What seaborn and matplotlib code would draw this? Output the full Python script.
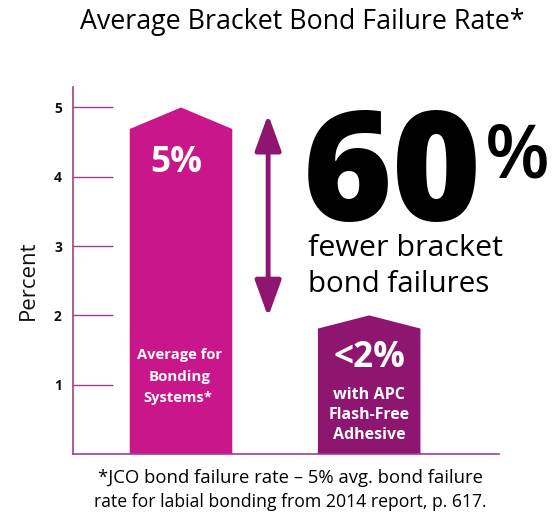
import matplotlib
matplotlib.use("Agg")
import matplotlib.pyplot as plt
import seaborn as sns
import pandas as pd
from matplotlib.patches import Polygon

categories = ["Average for\nBonding\nSystems*", "with APC\nFlash-Free\nAdhesive"]
values = [5.0, 2.0]
value_labels = ["5%", "<2%"]
yticks = [1, 2, 3, 4, 5]
title = "Average Bracket Bond Failure Rate*"
big_number = "60"
big_sign = "%"
sub_text = "fewer bracket\nbond failures"
footnote = "*JCO bond failure rate \u2013 5% avg. bond failure\nrate for labial bonding from 2014 report, p. 617."

colors = ["#C9168A", "#8E1570"]
cap = [0.31, 0.19]
axis_col = "#A0408C"

sns.set_theme(style="white")
plt.rcParams["font.family"] = ["Open Sans", "DejaVu Sans"]

fig = plt.figure(figsize=(5.52, 5.16), dpi=100)
ax = fig.add_axes([73/552, 1-454/516, (499-73)/552, (454-86.7)/516])

df = pd.DataFrame({"cat": categories, "val": values})
sns.barplot(data=df, x="cat", y="val", hue="cat", palette=colors, width=0.545,
            legend=False, ax=ax, saturation=1)

for p, c, col in zip(list(ax.patches), cap, colors):
    x0 = p.get_x(); w = p.get_width(); h = p.get_height()
    poly = Polygon([(x0, 0), (x0, h - c), (x0 + w/2, h), (x0 + w, h - c), (x0 + w, 0)],
                   closed=True, facecolor=col, edgecolor="none", zorder=2)
    p.set_visible(False)
    ax.add_patch(poly)

ax.set_xlim(-0.574, 1.69)
ax.set_ylim(0, 5.3)
ax.set_yticks(yticks)
ax.set_yticklabels([str(t) for t in yticks], fontweight="bold", fontsize=10, color="#111111")
ax.tick_params(axis="y", direction="in", length=29, width=1, color=axis_col, pad=8, left=True)
ax.tick_params(axis="x", bottom=False, labelbottom=False)
ax.set_xlabel("")
ax.set_ylabel("Percent", fontsize=16, color="#111111")
ax.yaxis.set_label_coords(-(73 - 39) / 426, (454 - 280) / (454 - 86.7))
for s in ["top", "right"]:
    ax.spines[s].set_visible(False)
for s in ["left", "bottom"]:
    ax.spines[s].set_color(axis_col)
    ax.spines[s].set_linewidth(1.2)

def py(y):
    return 1 - y / 516

def px(x):
    return x / 552

texts = []
def put(x, y, s, width, va="center", **kw):
    t = fig.text(px(x), py(y), s, va=va, **kw)
    texts.append((t, width))
    return t

put(176, 163, value_labels[0], 52, ha="center", color="white", fontsize=17, fontweight="bold")
put(180, 355, "Average for", 85, ha="center", color="white", fontsize=9, fontweight="bold")
put(180, 377, "Bonding", 62, ha="center", color="white", fontsize=9, fontweight="bold")
put(178, 398, "Systems*", 69, ha="center", color="white", fontsize=9, fontweight="bold")
put(369, 358, value_labels[1], 72, ha="center", color="white", fontsize=17, fontweight="bold")
put(369, 395, "with APC", 72, ha="center", color="white", fontsize=9, fontweight="bold")
put(369, 415, "Flash-Free", 81, ha="center", color="white", fontsize=9, fontweight="bold")
put(369, 435, "Adhesive", 72, ha="center", color="white", fontsize=9, fontweight="bold")
put(303, 221, big_number, 179, va="baseline", ha="left", color="black", fontsize=90, fontweight="heavy")
put(485, 178, big_sign, 65, va="baseline", ha="left", color="black", fontsize=50, fontweight="semibold")
put(308, 248, "fewer bracket", 195, ha="left", color="black", fontsize=17)
put(308, 284, "bond failures", 182, ha="left", color="black", fontsize=17)
put(302, 22, title, 445, ha="center", color="black", fontsize=15)
put(290, 478, footnote.split("\n")[0], 384, ha="center", color="black", fontsize=11)
put(290, 502, footnote.split("\n")[1], 394, ha="center", color="black", fontsize=11)

fig.canvas.draw()
r = fig.canvas.get_renderer()
for t, w in texts:
    cur = t.get_window_extent(r).width
    t.set_fontsize(t.get_fontsize() * w / cur)

ax.annotate("", xy=(0.463, 4.9), xytext=(0.463, 1.98),
            arrowprops=dict(arrowstyle="<|-|>,head_length=1.1,head_width=0.4",
                            mutation_scale=20, lw=3.5, color=colors[1],
                            shrinkA=0, shrinkB=0))

fig.savefig("out.png", dpi=100)
